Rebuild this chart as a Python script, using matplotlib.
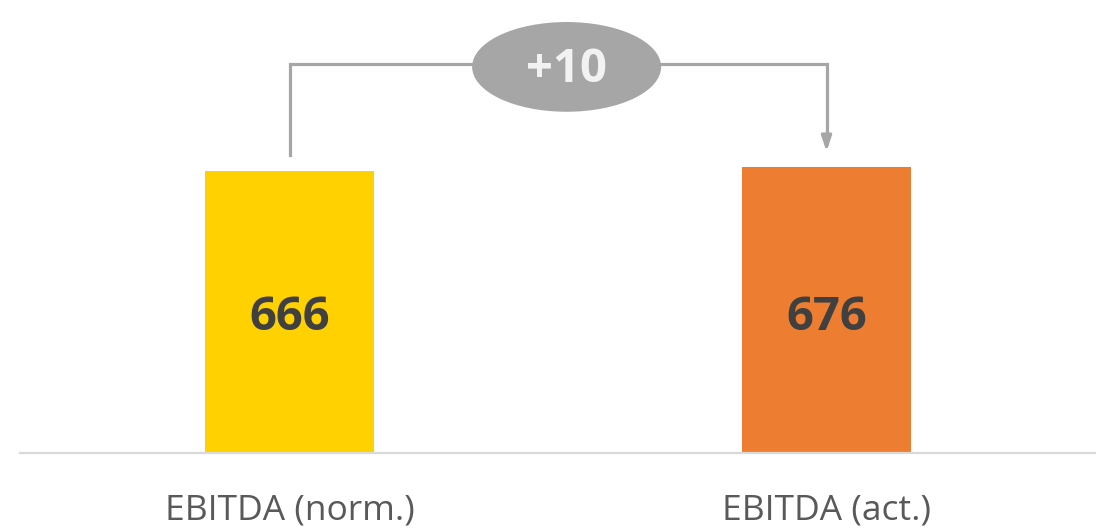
import matplotlib
matplotlib.use("Agg")
import matplotlib.pyplot as plt
from matplotlib.patches import Ellipse

categories = ["EBITDA (norm.)", "EBITDA (act.)"]
values = [666, 676]
bar_colors = ["#FFD100", "#ED7D31"]

delta = values[1] - values[0]
delta_label = f"+{delta}" if delta >= 0 else f"{delta}"

plt.rcParams["font.family"] = ["Open Sans", "DejaVu Sans"]

fig = plt.figure(figsize=(11.07, 5.30), dpi=100)
ax = fig.add_axes([20 / 1107, 77 / 530, 1075 / 1107, 453 / 530])

x = list(range(len(categories)))
ax.bar(x, values, width=0.315, color=bar_colors, zorder=2)

# value labels share one height inside the bars
label_y = min(values) / 2 - 12
for xi, v in zip(x, values):
    ax.text(xi, label_y, f"{v}", ha="center", va="center",
            fontsize=34, fontweight="bold", color="#404040", zorder=3)

ax.set_xlim(-0.502, 1.5)
ax.set_ylim(0, 1070)

# connector bracket with change bubble
line_color = "#A6A6A6"
start_y = values[0] + 38
tip_y = values[1] + 36
top_y = 919
ax.plot([x[0], x[0], x[1], x[1]], [start_y, top_y, top_y, tip_y + 20],
        color=line_color, lw=2.3, solid_joinstyle="miter", zorder=1)
ax.annotate("", xy=(x[1], tip_y), xytext=(x[1], tip_y + 25),
            arrowprops=dict(arrowstyle="-|>,head_length=0.9,head_width=0.3",
                            color=line_color, lw=2.3, shrinkA=0, shrinkB=0))

cx = 0.516
ax.add_patch(Ellipse((cx, 912), width=0.352, height=212,
                     facecolor=line_color, edgecolor="none", zorder=3))
ax.text(cx, 906, delta_label, ha="center", va="center", fontsize=34,
        fontweight="bold", color="#F2F2F2", zorder=4)

# axis styling
for side in ["top", "left", "right"]:
    ax.spines[side].set_visible(False)
ax.spines["bottom"].set_color("#D9D9D9")
ax.spines["bottom"].set_linewidth(1.6)
ax.set_yticks([])
ax.set_xticks(x)
ax.set_xticklabels(categories, fontsize=25.5, color="#595959")
ax.tick_params(axis="x", length=0, pad=29)

fig.savefig("out.png", dpi=100)
